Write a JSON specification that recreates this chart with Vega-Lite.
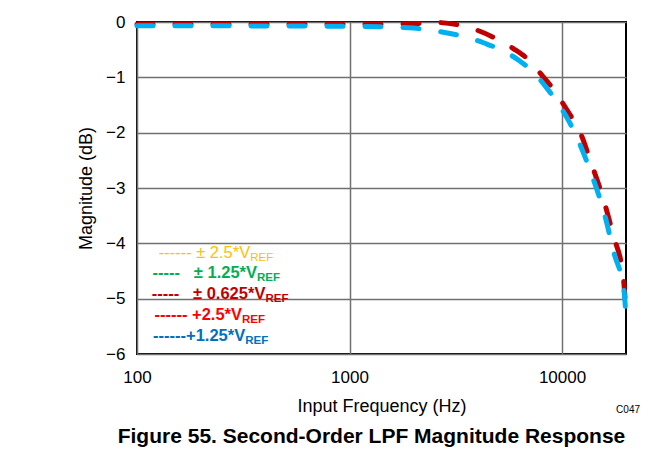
{
  "$schema": "https://vega.github.io/schema/vega-lite/v6.json",
  "autosize": "none",
  "width": 489,
  "height": 332,
  "padding": {"left": 137, "top": 22, "right": 43, "bottom": 112},
  "background": "white",
  "config": {
    "font": "Liberation Sans",
    "view": {"stroke": "#000000", "strokeWidth": 2},
    "axis": {"labelFont": "Liberation Sans", "titleFont": "Liberation Sans", "labelColor": "#000", "titleColor": "#000", "titleFontWeight": "normal"}
  },
  "title": {
    "text": "Figure 55. Second-Order LPF Magnitude Response",
    "orient": "bottom",
    "anchor": "middle",
    "frame": "group",
    "fontSize": 21,
    "fontWeight": "bold",
    "font": "Liberation Sans",
    "color": "#000",
    "offset": 11,
    "dx": -10
  },
  "datasets": {
    "curves": [
      {"series": "±0.625*VREF", "f": 100, "db": -0.04},
      {"series": "±0.625*VREF", "f": 300, "db": -0.04},
      {"series": "±0.625*VREF", "f": 1000, "db": -0.04},
      {"series": "±0.625*VREF", "f": 1500, "db": -0.04},
      {"series": "±0.625*VREF", "f": 2000, "db": -0.03},
      {"series": "±0.625*VREF", "f": 2600, "db": -0.01},
      {"series": "±0.625*VREF", "f": 3230, "db": -0.05},
      {"series": "±0.625*VREF", "f": 4000, "db": -0.15},
      {"series": "±0.625*VREF", "f": 4890, "db": -0.3},
      {"series": "±0.625*VREF", "f": 5900, "db": -0.48},
      {"series": "±0.625*VREF", "f": 6990, "db": -0.69},
      {"series": "±0.625*VREF", "f": 8000, "db": -0.95},
      {"series": "±0.625*VREF", "f": 9170, "db": -1.23},
      {"series": "±0.625*VREF", "f": 10200, "db": -1.5},
      {"series": "±0.625*VREF", "f": 11400, "db": -1.8},
      {"series": "±0.625*VREF", "f": 12400, "db": -2.07},
      {"series": "±0.625*VREF", "f": 13300, "db": -2.4},
      {"series": "±0.625*VREF", "f": 14400, "db": -2.78},
      {"series": "±0.625*VREF", "f": 15600, "db": -3.18},
      {"series": "±0.625*VREF", "f": 17400, "db": -3.85},
      {"series": "±0.625*VREF", "f": 19400, "db": -4.6},
      {"series": "±0.625*VREF", "f": 20000, "db": -5.25},
      {"series": "+1.25*VREF", "f": 100, "db": -0.07},
      {"series": "+1.25*VREF", "f": 300, "db": -0.07},
      {"series": "+1.25*VREF", "f": 1000, "db": -0.08},
      {"series": "+1.25*VREF", "f": 1500, "db": -0.09},
      {"series": "+1.25*VREF", "f": 2000, "db": -0.11},
      {"series": "+1.25*VREF", "f": 2234, "db": -0.13},
      {"series": "+1.25*VREF", "f": 2800, "db": -0.19},
      {"series": "+1.25*VREF", "f": 3526, "db": -0.27},
      {"series": "+1.25*VREF", "f": 4300, "db": -0.38},
      {"series": "+1.25*VREF", "f": 5270, "db": -0.52},
      {"series": "+1.25*VREF", "f": 6300, "db": -0.7},
      {"series": "+1.25*VREF", "f": 7380, "db": -0.92},
      {"series": "+1.25*VREF", "f": 8500, "db": -1.2},
      {"series": "+1.25*VREF", "f": 9680, "db": -1.5},
      {"series": "+1.25*VREF", "f": 10800, "db": -1.8},
      {"series": "+1.25*VREF", "f": 11890, "db": -2.13},
      {"series": "+1.25*VREF", "f": 13700, "db": -2.73},
      {"series": "+1.25*VREF", "f": 15780, "db": -3.45},
      {"series": "+1.25*VREF", "f": 17580, "db": -4.18},
      {"series": "+1.25*VREF", "f": 19600, "db": -4.88},
      {"series": "+1.25*VREF", "f": 20000, "db": -5.35}
    ],
    "legend": [
      {"entry": "± 2.5*VREF", "text": "------ ± 2.5*V", "sub": "REF", "f": 341, "db": -4.17, "weight": "normal"},
      {"entry": "± 1.25*VREF", "text": "-----\u00a0\u00a0 ± 1.25*V", "sub": "REF", "f": 367, "db": -4.54, "weight": "bold"},
      {"entry": "± 0.625*VREF", "text": "-----\u00a0\u00a0 ± 0.625*V", "sub": "REF", "f": 402, "db": -4.92, "weight": "bold"},
      {"entry": "+2.5*VREF", "text": "------ +2.5*V", "sub": "REF", "f": 312, "db": -5.3, "weight": "bold"},
      {"entry": "+1.25*VREF", "text": "------+1.25*V", "sub": "REF", "f": 323, "db": -5.68, "weight": "bold"}
    ],
    "code": [
      {"label": "C047", "f": 20000, "db": -6}
    ]
  },
  "encoding": {
    "x": {
      "field": "f", "type": "quantitative",
      "scale": {"type": "log", "domain": [100, 20000], "nice": false},
      "axis": {
        "title": "Input Frequency (Hz)",
        "values": [100, 1000, 10000],
        "format": "d",
        "labelFontSize": 17,
        "titleFontSize": 18,
        "labelPadding": 15,
        "titlePadding": 12,
        "ticks": false,
        "domain": false,
        "grid": true,
        "gridColor": "#707070",
        "gridWidth": 1.5,
        "labelFlush": false
      }
    },
    "y": {
      "field": "db", "type": "quantitative",
      "scale": {"domain": [-6, 0], "nice": false},
      "axis": {
        "title": "Magnitude (dB)",
        "values": [0, -1, -2, -3, -4, -5, -6],
        "format": "d",
        "labelFontSize": 17,
        "titleFontSize": 18,
        "labelPadding": 12,
        "titlePadding": 10,
        "ticks": false,
        "domain": false,
        "grid": true,
        "gridColor": "#707070",
        "gridWidth": 1.5
      }
    }
  },
  "layer": [
    {
      "mark": {"type": "rect", "fill": "white"},
      "encoding": {
        "x": {"datum": 107},
        "x2": {"datum": 655},
        "y": {"datum": -3.88},
        "y2": {"datum": -5.96}
      }
    },
    {
      "data": {"name": "curves"},
      "mark": {"type": "line", "strokeWidth": 5, "strokeCap": "round", "strokeDash": [16, 22], "interpolate": "monotone"},
      "encoding": {
        "color": {
          "field": "series", "type": "nominal",
          "scale": {"domain": ["±0.625*VREF", "+1.25*VREF"], "range": ["#C00000", "#00B0F0"]},
          "legend": null
        },
        "order": {"field": "f"}
      }
    },
    {
      "data": {"name": "legend"},
      "transform": [{"filter": "datum.weight == 'normal'"}],
      "mark": {"type": "text", "align": "right", "baseline": "middle", "fontSize": 16.5, "fontWeight": "normal"},
      "encoding": {
        "text": {"field": "text"},
        "color": {"field": "entry", "type": "nominal", "scale": {"domain": ["± 2.5*VREF", "± 1.25*VREF", "± 0.625*VREF", "+2.5*VREF", "+1.25*VREF"], "range": ["#FFC000", "#00B050", "#C00000", "#FF0000", "#0070C0"]}, "legend": null}
      }
    },
    {
      "data": {"name": "legend"},
      "transform": [{"filter": "datum.weight == 'bold'"}],
      "mark": {"type": "text", "align": "right", "baseline": "middle", "fontSize": 16.5, "fontWeight": "bold"},
      "encoding": {
        "text": {"field": "text"},
        "color": {"field": "entry", "type": "nominal", "scale": {"domain": ["± 2.5*VREF", "± 1.25*VREF", "± 0.625*VREF", "+2.5*VREF", "+1.25*VREF"], "range": ["#FFC000", "#00B050", "#C00000", "#FF0000", "#0070C0"]}, "legend": null}
      }
    },
    {
      "data": {"name": "legend"},
      "transform": [{"filter": "datum.weight == 'normal'"}],
      "mark": {"type": "text", "align": "left", "baseline": "middle", "fontSize": 11.5, "fontWeight": "normal", "dy": 5},
      "encoding": {
        "text": {"field": "sub"},
        "color": {"field": "entry", "type": "nominal", "scale": {"domain": ["± 2.5*VREF", "± 1.25*VREF", "± 0.625*VREF", "+2.5*VREF", "+1.25*VREF"], "range": ["#FFC000", "#00B050", "#C00000", "#FF0000", "#0070C0"]}, "legend": null}
      }
    },
    {
      "data": {"name": "legend"},
      "transform": [{"filter": "datum.weight == 'bold'"}],
      "mark": {"type": "text", "align": "left", "baseline": "middle", "fontSize": 11.5, "fontWeight": "bold", "dy": 5},
      "encoding": {
        "text": {"field": "sub"},
        "color": {"field": "entry", "type": "nominal", "scale": {"domain": ["± 2.5*VREF", "± 1.25*VREF", "± 0.625*VREF", "+2.5*VREF", "+1.25*VREF"], "range": ["#FFC000", "#00B050", "#C00000", "#FF0000", "#0070C0"]}, "legend": null}
      }
    },
    {
      "data": {"name": "code"},
      "mark": {"type": "text", "align": "right", "baseline": "middle", "fontSize": 10, "dx": 14, "dy": 56, "color": "#000"},
      "encoding": {"text": {"field": "label"}}
    }
  ],
  "resolve": {"scale": {"color": "independent"}}
}
